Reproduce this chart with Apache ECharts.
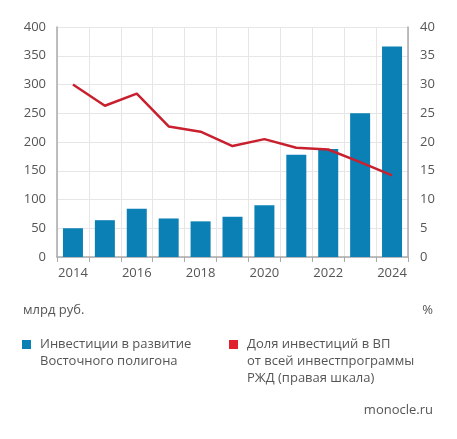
<!DOCTYPE html>
<html><head><meta charset="utf-8">
<script src="https://cdn.jsdelivr.net/npm/echarts@6/dist/echarts.min.js"></script>
<style>html,body{margin:0;padding:0;background:#fff}#c{width:457px;height:439px}</style>
</head><body><div id="c"></div>
<script>
const years = ['2014','2015','2016','2017','2018','2019','2020','2021','2022','2023','2024'];
const investments = [50, 64, 84, 67, 62, 70, 90, 178, 188, 250, 366];
const sharePct = [30, 26.3, 28.4, 22.7, 21.8, 19.3, 20.5, 19.0, 18.7, 16.5, 14.2];
const leftTicks = [0, 400, 50];
const rightTicks = [0, 40, 5];
const barName = 'Инвестиции в развитие\nВосточного полигона';
const lineName = 'Доля инвестиций в ВП\nот всей инвестпрограммы\nРЖД (правая шкала)';

const font = 'Open Sans';
const txt = '#555';
const chart = echarts.init(document.getElementById('c'));
chart.setOption({
  animation: false,
  textStyle: {fontFamily: font},
  grid: {left: 57, right: 49, top: 27, bottom: 182},
  xAxis: {
    type: 'category', data: years, boundaryGap: true,
    axisLine: {lineStyle: {color: '#aaa', width: 1.5}},
    axisTick: {show: true, length: 5, lineStyle: {color: '#aaa'}, interval: 0},
    axisLabel: {color: txt, fontSize: 13, margin: 10, interval: 1, fontFamily: font},
    splitLine: {show: true, interval: 0, lineStyle: {color: '#e6e6e6'}}
  },
  yAxis: [{
    type: 'value', min: leftTicks[0], max: leftTicks[1], interval: leftTicks[2],
    axisLine: {show: true, lineStyle: {color: '#aaa', width: 1.5}},
    axisTick: {show: false},
    axisLabel: {color: txt, fontSize: 13, margin: 11, fontFamily: font},
    splitLine: {lineStyle: {color: '#e6e6e6'}}
  }, {
    type: 'value', min: rightTicks[0], max: rightTicks[1], interval: rightTicks[2],
    position: 'right',
    axisLine: {show: true, lineStyle: {color: '#aaa', width: 1.5}},
    axisTick: {show: false},
    axisLabel: {color: txt, fontSize: 13, margin: 12, fontFamily: font},
    splitLine: {show: false}
  }],
  series: [{
    name: barName, type: 'bar', data: investments, yAxisIndex: 0,
    barWidth: 20, itemStyle: {color: '#0a80b4'}
  }, {
    name: lineName, type: 'line', data: sharePct, yAxisIndex: 1,
    symbol: 'none', lineStyle: {color: '#c8202e', width: 2.5}, z: 5
  }],
  graphic: [
    {type: 'text', left: 23, top: 304, style: {text: 'млрд руб.', fill: txt, font: '13px "Open Sans"'}},
    {type: 'text', right: 24, top: 304, style: {text: '%', fill: txt, font: '13px "Open Sans"'}},
    {type: 'rect', shape: {x: 22, y: 340, width: 9, height: 9}, style: {fill: '#0a80b4'}},
    {type: 'text', left: 40, top: 336, style: {text: barName, fill: txt, font: '13px "Open Sans"', lineHeight: 17}},
    {type: 'rect', shape: {x: 229, y: 340, width: 9, height: 9}, style: {fill: '#e0202e'}},
    {type: 'text', left: 247, top: 336, style: {text: lineName, fill: txt, font: '13px "Open Sans"', lineHeight: 17}},
    {type: 'text', right: 24, top: 404, style: {text: 'monocle.ru', fill: txt, font: '13px "Open Sans"'}}
  ]
});
</script></body></html>
